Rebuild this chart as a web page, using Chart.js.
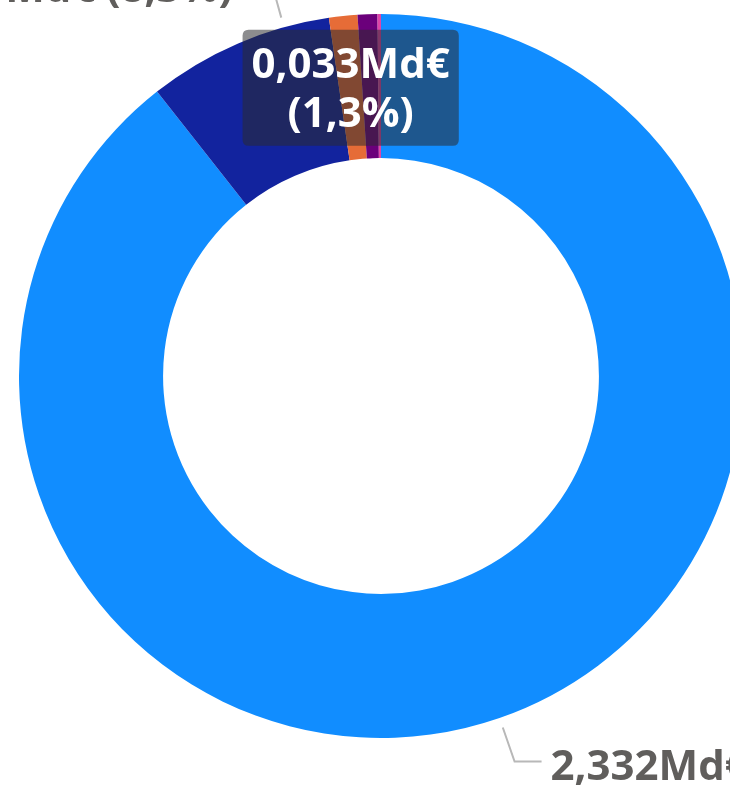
<!DOCTYPE html>
<html>
<head>
<meta charset="utf-8">
<script src="https://cdn.jsdelivr.net/npm/chart.js@4"></script>
<style>
  html, body { margin: 0; padding: 0; background: #fff; }
  #cadre { position: relative; width: 730px; height: 788px; overflow: hidden; }
  #graf { position: absolute; left: 0; top: 0; }
</style>
</head>
<body>
<div id="cadre"><canvas id="graf" width="762" height="788"></canvas></div>
<script>
// Données (milliards d'euros)
var CATEGORIES = ["A", "B", "C", "D", "E"];
var VALEURS = [2.332, 0.217, 0.033, 0.023, 0.004];
var COULEURS = ["#118DFF", "#12239E", "#E66C37", "#6B007B", "#E044A7"];

// placement des étiquettes : "ext" = dehors avec trait, "int" = dans l'anneau avec fond
var ETIQUETTES = [
  { i: 0, mode: "ext", decal: 0 },
  { i: 1, mode: "ext", decal: 7.7 },
  { i: 2, mode: "int" }
];

var POLICE = "bold 42px 'Open Sans', 'Noto Sans', sans-serif";

function fmtVal(v) { return v.toFixed(3).replace(".", ",") + "Md€"; }
function fmtPct(p) { return "(" + (p * 100).toFixed(1).replace(".", ",") + "%)"; }

function rectArrondi(ctx, x, y, w, h, r) {
  ctx.beginPath();
  ctx.moveTo(x + r, y);
  ctx.lineTo(x + w - r, y);
  ctx.quadraticCurveTo(x + w, y, x + w, y + r);
  ctx.lineTo(x + w, y + h - r);
  ctx.quadraticCurveTo(x + w, y + h, x + w - r, y + h);
  ctx.lineTo(x + r, y + h);
  ctx.quadraticCurveTo(x, y + h, x, y + h - r);
  ctx.lineTo(x, y + r);
  ctx.quadraticCurveTo(x, y, x + r, y);
  ctx.closePath();
}

var pluginEtiquettes = {
  id: "etiquettes",
  afterDatasetsDraw: function (chart) {
    var ctx = chart.ctx;
    var meta = chart.getDatasetMeta(0);
    var total = VALEURS.reduce(function (s, v) { return s + v; }, 0);
    ctx.save();
    ctx.font = POLICE;
    ETIQUETTES.forEach(function (et) {
      var arc = meta.data[et.i];
      var p = arc.getProps(["x", "y", "startAngle", "endAngle", "innerRadius", "outerRadius"], true);
      var val = VALEURS[et.i];
      var pct = val / total;
      var mid = (p.startAngle + p.endAngle) / 2;
      if (et.mode === "int") {
        var r = (p.innerRadius + p.outerRadius) / 2;
        var cx = p.x + Math.cos(mid) * r;
        var cy = p.y + Math.sin(mid) * r;
        var l1 = fmtVal(val), l2 = fmtPct(pct);
        var w = Math.max(ctx.measureText(l1).width, ctx.measureText(l2).width) + 18;
        var h = 116;
        ctx.fillStyle = "rgba(43,43,46,0.54)";
        rectArrondi(ctx, cx - w / 2, cy - h / 2, w, h, 6);
        ctx.fill();
        ctx.fillStyle = "#ffffff";
        ctx.textAlign = "center";
        ctx.textBaseline = "middle";
        ctx.fillText(l1, cx, cy - 22);
        ctx.fillText(l2, cx, cy + 27);
      } else {
        var a = mid + et.decal * Math.PI / 180;
        var r0 = p.outerRadius + 10;
        var x0 = p.x + Math.cos(a) * r0;
        var y0 = p.y + Math.sin(a) * r0;
        var x1 = p.x + Math.cos(a) * (r0 + 36);
        var y1 = p.y + Math.sin(a) * (r0 + 36);
        var droite = Math.cos(a) >= 0;
        var x2 = x1 + (droite ? 27 : -27);
        ctx.strokeStyle = "#b8b8b8";
        ctx.lineWidth = 2;
        ctx.beginPath();
        ctx.moveTo(x0, y0);
        ctx.lineTo(x1, y1);
        ctx.lineTo(x2, y1);
        ctx.stroke();
        ctx.fillStyle = "#605E5C";
        ctx.textAlign = droite ? "left" : "right";
        ctx.textBaseline = "middle";
        ctx.fillText(fmtVal(val) + " " + fmtPct(pct), x2 + (droite ? 9 : -12), y1 + 7);
      }
    });
    ctx.restore();
  }
};

new Chart(document.getElementById("graf"), {
  type: "doughnut",
  data: {
    labels: CATEGORIES,
    datasets: [{
      data: VALEURS,
      backgroundColor: COULEURS,
      borderWidth: 0
    }]
  },
  options: {
    responsive: false,
    animation: false,
    devicePixelRatio: 1,
    radius: 362,
    cutout: "60.2%",
    layout: { padding: { left: 0, right: 0, top: 0, bottom: 36 } },
    plugins: {
      legend: { display: false },
      tooltip: { enabled: false }
    }
  },
  plugins: [pluginEtiquettes]
});
</script>
</body>
</html>
